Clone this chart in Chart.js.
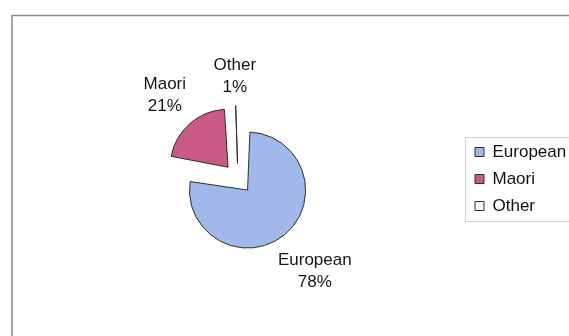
<!DOCTYPE html>
<html>
<head>
<meta charset="utf-8">
<script src="https://cdn.jsdelivr.net/npm/chart.js@4/dist/chart.umd.min.js"></script>
<style>
  html, body { margin: 0; padding: 0; background: #ffffff; overflow: hidden; }
  #wrap { position: relative; width: 569px; height: 336px; }
</style>
</head>
<body>
<div id="wrap"><canvas id="pie" width="569" height="336"></canvas></div>
<script>
// Ethnic composition, percent of total
const categories = ['European', 'Maori', 'Other'];
const shares = [78, 21, 1];

const FONT = '"Liberation Sans", Arial, sans-serif';
const FONT_SIZE = 17;
const LINE_H = 22;
// Chart.js moves an arc by a quarter of its `offset` option
const ARC_OFFSET = 60;
const OFFSET_SCALE = 0.25;

// Outer frame of the chart object
const framePlugin = {
  id: 'frame',
  beforeDraw(chart) {
    const ctx = chart.ctx;
    ctx.save();
    ctx.fillStyle = '#ffffff';
    ctx.fillRect(0, 0, chart.width, chart.height);
    ctx.strokeStyle = '#8a8a8a';
    ctx.lineWidth = 1.5;
    ctx.beginPath();
    ctx.moveTo(12, chart.height);
    ctx.lineTo(12, 15.5);
    ctx.lineTo(chart.width, 15.5);
    ctx.stroke();
    ctx.restore();
  }
};

// Place the plot area and the legend
const LEGEND_FRAME = { left: 465, top: 137, bottom: 221 };
const placementPlugin = {
  id: 'placement',
  afterLayout(chart) {
    const cx = 238, cy = 178.5, half = 100;
    Object.assign(chart.chartArea, {
      left: cx - half, right: cx + half, top: cy - half, bottom: cy + half,
      width: 2 * half, height: 2 * half
    });
    const lg = chart.legend;
    if (lg) {
      lg.left = LEGEND_FRAME.left; lg.right = 640;
      lg.top = LEGEND_FRAME.top - 9; lg.bottom = LEGEND_FRAME.bottom + 9;
      lg.width = lg.right - lg.left; lg.height = lg.bottom - lg.top;
      lg.adjustHitBoxes();
    }
  },
  beforeDatasetsDraw(chart) {
    const ctx = chart.ctx;
    ctx.save();
    ctx.strokeStyle = '#cfcfcf';
    ctx.lineWidth = 1;
    ctx.strokeRect(LEGEND_FRAME.left + 0.5, LEGEND_FRAME.top + 0.5,
      chart.width, LEGEND_FRAME.bottom - LEGEND_FRAME.top);
    ctx.restore();
  }
};

// Exploded slices keep the common radius (Chart.js otherwise enlarges
// an offset arc by an amount that depends on its sweep)
const equalRadiusPlugin = {
  id: 'equalRadius',
  beforeDatasetDraw(chart, args) {
    args.meta.data.forEach(arc => {
      const t = (arc.options.offset || 0) * OFFSET_SCALE;
      const fix = 1 - Math.sin(Math.min(Math.PI, arc.circumference || 0));
      arc._baseRadius = arc.outerRadius;
      arc.outerRadius = arc._baseRadius - t * fix;
    });
  },
  afterDatasetDraw(chart, args) {
    args.meta.data.forEach(arc => {
      if (arc._baseRadius !== undefined) arc.outerRadius = arc._baseRadius;
    });
  }
};

// Category name and share printed outside each slice
const sliceLabelPlugin = {
  id: 'sliceLabels',
  afterDatasetsDraw(chart) {
    const ctx = chart.ctx;
    const meta = chart.getDatasetMeta(0);
    const gap = 9;
    ctx.save();
    ctx.font = FONT_SIZE + 'px ' + FONT;
    ctx.fillStyle = '#151515';
    ctx.textAlign = 'center';
    ctx.textBaseline = 'middle';
    meta.data.forEach((arc, i) => {
      const p = arc.getProps(['x', 'y', 'startAngle', 'endAngle', 'outerRadius'], true);
      const off = (arc.options.offset || 0) * OFFSET_SCALE;
      const mid = (p.startAngle + p.endAngle) / 2;
      const dx = Math.cos(mid), dy = Math.sin(mid);
      const lines = [chart.data.labels[i], chart.data.datasets[0].data[i] + '%'];
      const hw = Math.max(...lines.map(t => ctx.measureText(t).width)) / 2;
      const hh = (LINE_H * (lines.length - 1) + FONT_SIZE) / 2;
      const support = hw * Math.abs(dx) + hh * Math.abs(dy);
      const d = off + p.outerRadius + gap + support;
      const lx = p.x + dx * d;
      const ly = p.y + dy * d;
      lines.forEach((t, k) => {
        ctx.fillText(t, lx, ly - LINE_H * (lines.length - 1) / 2 + k * LINE_H);
      });
    });
    ctx.restore();
  }
};

new Chart(document.getElementById('pie'), {
  type: 'pie',
  data: {
    labels: categories,
    datasets: [{
      data: shares,
      backgroundColor: ['#a0b8ea', '#c95a83', '#fbfcee'],
      borderColor: '#2e2e2e',
      borderWidth: 1,
      offset: ARC_OFFSET,
      radius: 58,
      clip: false
    }]
  },
  options: {
    responsive: false,
    animation: false,
    events: [],
    layout: { padding: 0 },
    plugins: {
      tooltip: { enabled: false },
      legend: {
        position: 'right',
        labels: {
          boxWidth: 9,
          boxHeight: 9,
          padding: 10,
          color: '#111111',
          font: { family: FONT, size: FONT_SIZE }
        }
      }
    }
  },
  plugins: [framePlugin, placementPlugin, equalRadiusPlugin, sliceLabelPlugin]
});
</script>
</body>
</html>
